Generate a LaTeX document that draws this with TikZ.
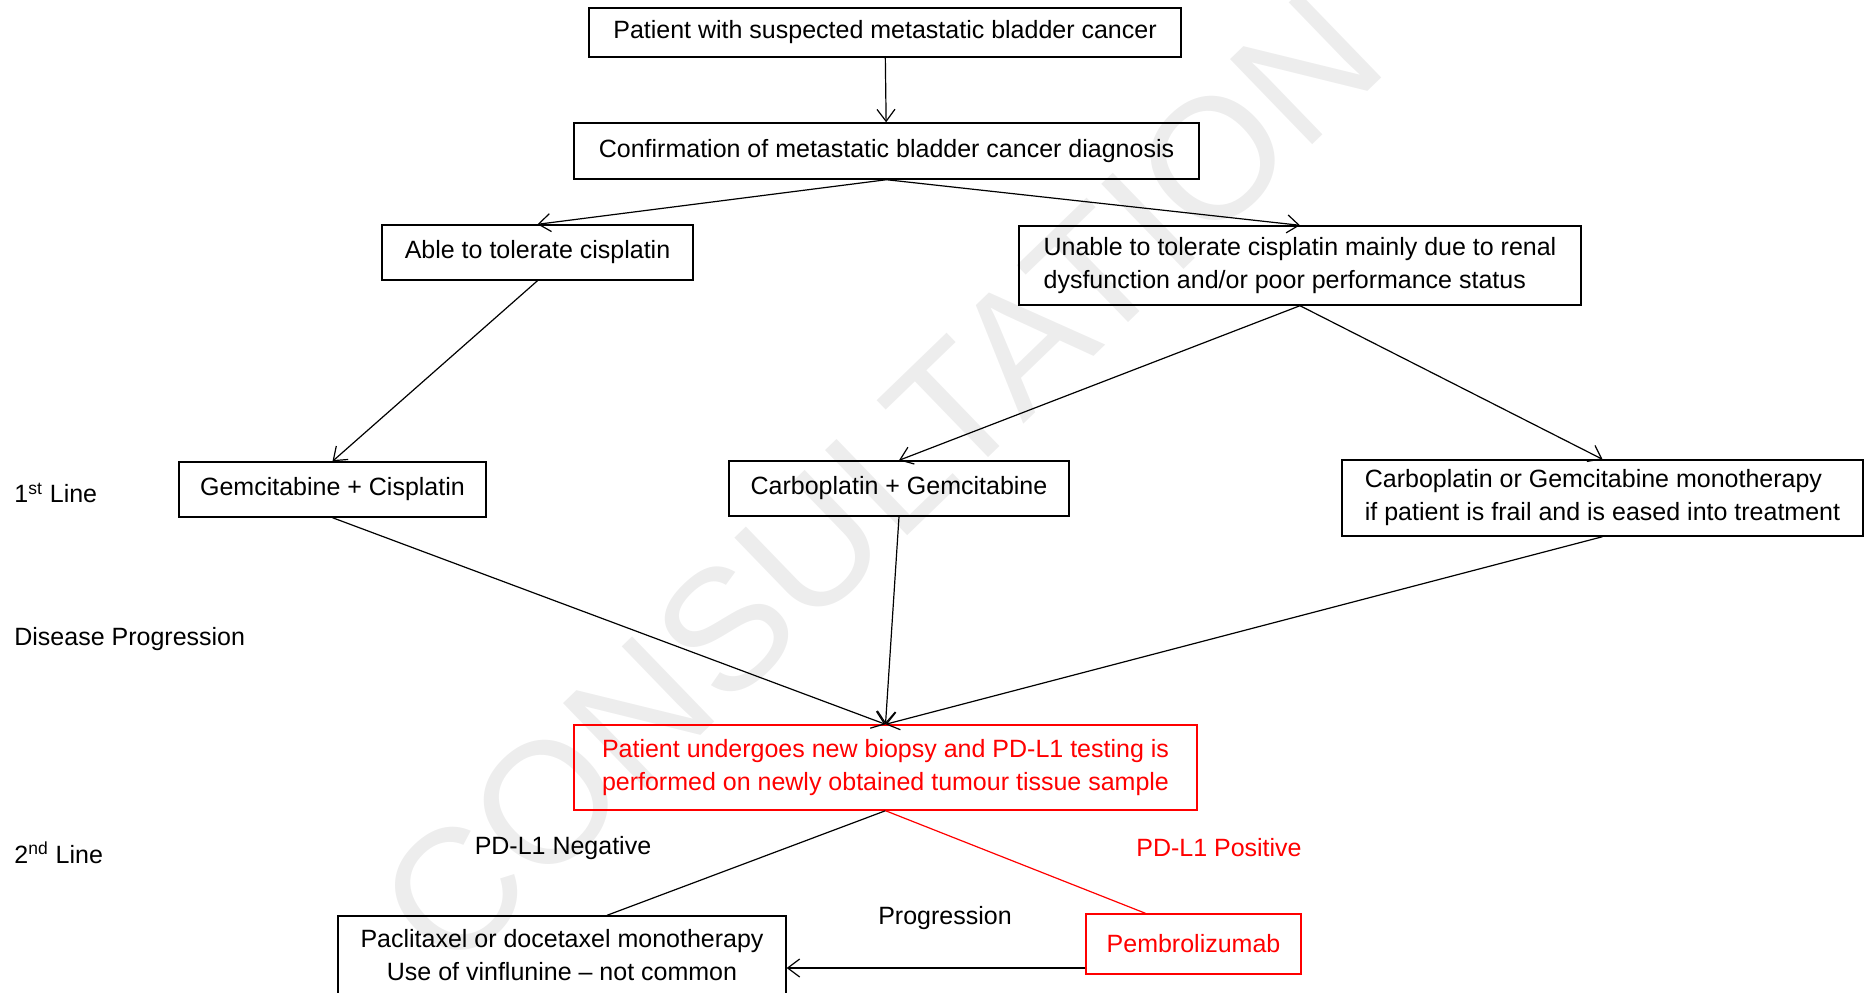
\documentclass[tikz,border=0pt]{standalone}
\usepackage{fontspec}
\setmainfont{Liberation Sans}
\usetikzlibrary{positioning,arrows.meta}

\begin{document}
\begin{tikzpicture}[
    x=0.5pt, y=-0.5pt,
    every node/.style={font=\fontsize{12.5}{16.5}\selectfont},
    box/.style={draw, line width=0.7pt, inner sep=3pt},
    redbox/.style={box, draw=red, text=red},
    arrow/.style={-{Straight Barb[length=6pt,width=9pt]}, line width=0.6pt},
    link/.style={line width=0.6pt},
    side/.style={anchor=west, inner xsep=0pt}
]
\useasboundingbox (0,0) rectangle (1867,992);

% Watermark
\node[text=black!7, font=\fontsize{86}{86}\selectfont, rotate=44] (mark) at (880,480) {CONSULTATION};

% Diagnosis
\node[box, minimum width=296pt, minimum height=24.5pt] (suspect) at (885,32.5) {Patient with suspected metastatic bladder cancer};
\node[box, minimum width=312.5pt, minimum height=28pt] (confirm) at (886.5,151) {Confirmation of metastatic bladder cancer diagnosis};

% Cisplatin fitness
\node[box, minimum width=155.5pt, minimum height=27.5pt] (able) at (537.5,252.5) {Able to tolerate cisplatin};
\node[box, minimum width=281pt, minimum height=39.5pt, align=left] (unable) at (1300,265.5) {Unable to tolerate cisplatin mainly due to renal\\dysfunction and/or poor performance status};

% First line
\node[box, minimum width=153.5pt, minimum height=27.5pt] (gemcis) at (332.5,489.5) {Gemcitabine + Cisplatin};
\node[box, minimum width=170pt, minimum height=27.5pt] (carbogem) at (899,488.5) {Carboplatin + Gemcitabine};
\node[box, minimum width=260.5pt, minimum height=38pt, align=left] (mono) at (1602.5,498) {Carboplatin or Gemcitabine monotherapy\\if patient is frail and is eased into treatment};

% Second line
\node[redbox, minimum width=311.5pt, minimum height=42.5pt, align=left] (biopsy) at (885.5,767.5) {Patient undergoes new biopsy and PD-L1 testing is\\performed on newly obtained tumour tissue sample};
\node[box, minimum width=224pt, minimum height=39pt, align=center] (taxane) at (562,955) {Paclitaxel or docetaxel monotherapy\\Use of vinflunine -- not common};
\node[redbox, minimum width=107.5pt, minimum height=30pt] (pembro) at (1193.5,944) {Pembrolizumab};

% Labels
\node[side] (first) at (14,493) {1\textsuperscript{st} Line};
\node[side] (progress) at (14,639) {Disease Progression};
\node[side] (second) at (14,853) {2\textsuperscript{nd} Line};
\node (neg) at (563,848) {PD-L1 Negative};
\node[text=red] (pos) at (1219,848) {PD-L1 Positive};
\node (relapse) at (945,918) {Progression};

% Connections
\draw[arrow] (suspect) -- (confirm);
\draw[arrow] (confirm.south) -- (able.north);
\draw[arrow] (confirm.south) -- (unable.north);
\draw[arrow] (able.south) -- (gemcis.north);
\draw[arrow] (unable.south) -- (carbogem.north);
\draw[arrow] (unable.south) -- (mono.north);
\foreach \n in {gemcis,carbogem,mono} {
    \draw[arrow] (\n.south) -- (biopsy.north);
}
\draw[link] (biopsy.south) -- ([xshift=22.5pt]taxane.north);
\draw[link, red] (biopsy.south) -- ([xshift=-24pt]pembro.north);
\coordinate (back) at ([yshift=-12pt]pembro.west);
\draw[arrow] (back) -- (back -| taxane.east);

\end{tikzpicture}
\end{document}
